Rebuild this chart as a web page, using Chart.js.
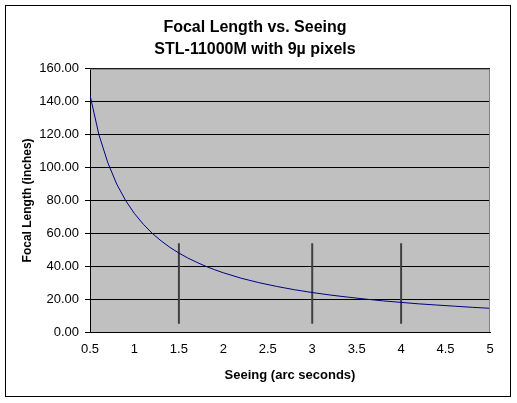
<!DOCTYPE html>
<html>
<head>
<meta charset="utf-8">
<script src="https://cdn.jsdelivr.net/npm/chart.js@4.4.1/dist/chart.umd.min.js"></script>
<style>
  body { margin: 0; background: #fff; }
  #wrap { position: relative; width: 517px; height: 403px; }
</style>
</head>
<body>
<div id="wrap"><canvas id="chart" width="517" height="403"></canvas></div>
<script>
// valores
const seeing = [0.5, 0.6, 0.7, 0.8, 0.9, 1.0, 1.1, 1.2, 1.3, 1.4, 1.5, 1.6, 1.7, 1.8, 1.9, 2.0,
  2.2, 2.4, 2.6, 2.8, 3.0, 3.2, 3.4, 3.6, 3.8, 4.0, 4.2, 4.4, 4.6, 4.8, 5.0]
const focalLength = [144, 120, 103, 90, 80, 72, 65.5, 60, 55.4, 51.4, 48, 45, 42.4, 40, 37.9, 36,
  32.7, 30, 27.7, 25.7, 24, 22.5, 21.2, 20, 18.9, 18, 17.1, 16.4, 15.7, 15, 14.4]
const markerSeeing = [1.5, 3, 4]
const markerBottom = 5
const markerTop = 54
const xTicks = [0.5, 1, 1.5, 2, 2.5, 3, 3.5, 4, 4.5, 5]
const yTicks = [0, 20, 40, 60, 80, 100, 120, 140, 160]

const ctx = document.getElementById('chart')
const fontFamily = 'Liberation Sans, Arial, sans-serif'

// fundo cinza da area do grafico e moldura externa
const plotBackground = {
  id: 'plotBackground',
  beforeDraw(chart) {
    const { ctx, chartArea: a } = chart
    ctx.save()
    ctx.fillStyle = '#c0c0c0'
    ctx.fillRect(a.left, a.top, a.right - a.left, a.bottom - a.top)
    ctx.restore()
  },
  afterDraw(chart) {
    const { ctx, chartArea: a } = chart
    ctx.save()
    ctx.strokeStyle = '#808080'
    ctx.lineWidth = 1
    ctx.beginPath()
    ctx.moveTo(a.left, a.top + 0.5)
    ctx.lineTo(a.right - 0.5, a.top + 0.5)
    ctx.lineTo(a.right - 0.5, a.bottom)
    ctx.stroke()
    ctx.strokeStyle = '#000'
    ctx.strokeRect(5.5, 5.5, 505, 391)
    ctx.restore()
  }
}

const markerDatasets = markerSeeing.map(s => ({
  data: [{ x: s, y: markerBottom }, { x: s, y: markerTop }],
  borderColor: '#404040',
  borderWidth: 2,
  pointRadius: 0,
  showLine: true
}))

new Chart(ctx, {
  type: 'scatter',
  data: {
    datasets: [{
      data: seeing.map((s, i) => ({ x: s, y: focalLength[i] })),
      borderColor: '#000080',
      borderWidth: 1,
      pointRadius: 0,
      showLine: true,
      tension: 0
    }, ...markerDatasets]
  },
  options: {
    responsive: false,
    animation: false,
    layout: { padding: { left: 20, right: 27, top: 16, bottom: 14 } },
    plugins: {
      legend: { display: false },
      tooltip: { enabled: false },
      title: {
        display: true,
        text: ['Focal Length vs. Seeing', 'STL-11000M with 9\u00b5 pixels'],
        color: '#000',
        font: { family: fontFamily, size: 16, weight: 'bold', lineHeight: 1.4 },
        padding: { top: 0, bottom: 8 }
      }
    },
    scales: {
      x: {
        type: 'linear',
        min: 0.5,
        max: 5,
        afterBuildTicks: axis => { axis.ticks = xTicks.map(v => ({ value: v })) },
        afterFit: axis => { axis.height = 57 },
        grid: { display: false, drawTicks: true, tickLength: 5, color: '#000' },
        border: { color: '#000' },
        ticks: {
          color: '#000',
          font: { family: fontFamily, size: 13 },
          padding: 5,
          maxRotation: 0,
          callback: v => String(v)
        },
        title: {
          display: true,
          text: 'Seeing (arc seconds)',
          color: '#000',
          font: { family: fontFamily, size: 13, weight: 'bold' },
          padding: { top: 4, bottom: 6 }
        }
      },
      y: {
        min: 0,
        max: 160,
        afterBuildTicks: axis => { axis.ticks = yTicks.map(v => ({ value: v })) },
        afterFit: axis => { axis.width = 70 },
        grid: {
          color: '#000',
          lineWidth: 1,
          drawTicks: true,
          tickLength: 5
        },
        border: { color: '#000' },
        ticks: {
          color: '#000',
          font: { family: fontFamily, size: 13 },
          padding: 6,
          callback: v => v.toFixed(2)
        },
        title: {
          display: true,
          text: 'Focal Length (inches)',
          color: '#000',
          font: { family: fontFamily, size: 12, weight: 'bold' },
          padding: { top: 0, bottom: 4 }
        }
      }
    }
  },
  plugins: [plotBackground]
})
</script>
</body>
</html>
